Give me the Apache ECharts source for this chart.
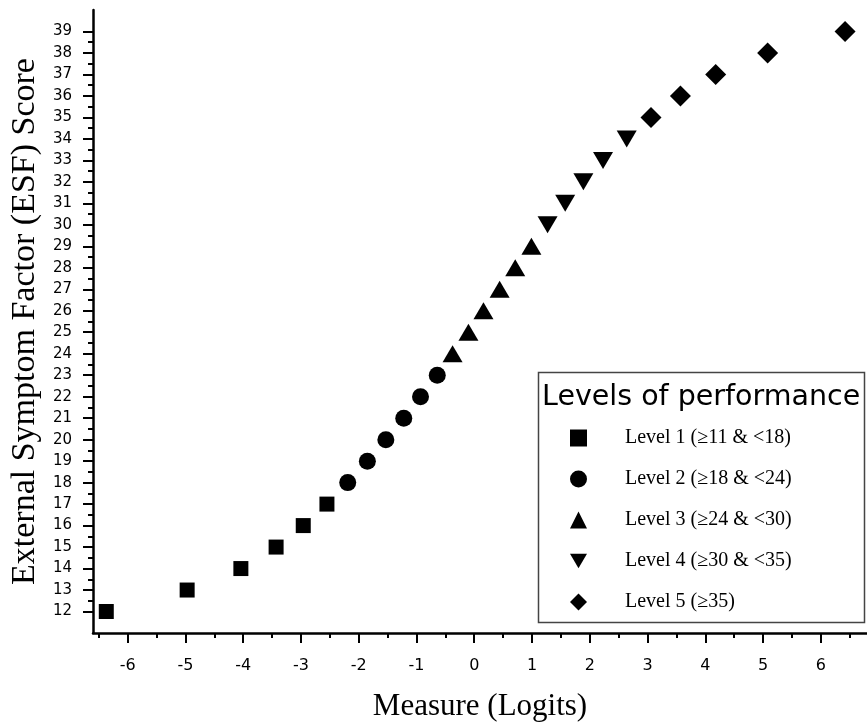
<!DOCTYPE html>
<html><head><meta charset="utf-8">
<script src="https://cdn.jsdelivr.net/npm/echarts@6/dist/echarts.min.js"></script>
<style>html,body{margin:0;padding:0;background:#fff}#c{width:867px;height:726px}</style>
</head><body><div id="c"></div>
<script>
const levelNames = ['Level 1 (≥11 & <18)', 'Level 2 (≥18 & <24)', 'Level 3 (≥24 & <30)', 'Level 4 (≥30 & <35)', 'Level 5 (≥35)'];
const level1Measure = [-6.37, -4.97, -4.04, -3.43, -2.96, -2.55];
const level1Score = [12, 13, 14, 15, 16, 17];
const level2Measure = [-2.19, -1.85, -1.53, -1.22, -0.93, -0.64];
const level2Score = [18, 19, 20, 21, 22, 23];
const level3Measure = [-0.375, -0.10, 0.16, 0.44, 0.71, 0.99];
const level3Score = [24, 25, 26, 27, 28, 29];
const level4Measure = [1.27, 1.575, 1.89, 2.23, 2.64];
const level4Score = [30, 31, 32, 33, 34];
const level5Measure = [3.06, 3.57, 4.18, 5.08, 6.42];
const level5Score = [35, 36, 37, 38, 39];
const xMajorTicks = [-6, -5, -4, -3, -2, -1, 0, 1, 2, 3, 4, 5, 6];
const xMinorTicks = [-6.5, -5.5, -4.5, -3.5, -2.5, -1.5, -0.5, 0.5, 1.5, 2.5, 3.5, 4.5, 5.5, 6.5];
const yMajorTicks = [12, 13, 14, 15, 16, 17, 18, 19, 20, 21, 22, 23, 24, 25, 26, 27, 28, 29, 30, 31, 32, 33, 34, 35, 36, 37, 38, 39];
const yMinorTicks = [12.5, 13.5, 14.5, 15.5, 16.5, 17.5, 18.5, 19.5, 20.5, 21.5, 22.5, 23.5, 24.5, 25.5, 26.5, 27.5, 28.5, 29.5, 30.5, 31.5, 32.5, 33.5, 34.5, 35.5, 36.5, 37.5, 38.5];
const xTitle = 'Measure (Logits)';
const yTitle = 'External Symptom Factor (ESF) Score';
const legendTitle = 'Levels of performance';

const pairs = (xs, ys) => xs.map((x, i) => [x, ys[i]]);
const serif = '"Liberation Serif", "Times New Roman", serif';
const sans = '"DejaVu Sans", sans-serif';

const chart = echarts.init(document.getElementById('c'), null, {renderer: 'canvas'});
const xBase = {type: 'value', min: -6.6, max: 6.8, position: 'bottom', splitLine: {show: false}, gridIndex: 0};
const yBase = {type: 'value', min: 11, max: 40, position: 'left', splitLine: {show: false}, gridIndex: 0};
chart.setOption({
  animation: false,
  backgroundColor: '#fff',
  grid: {left: 93, right: 0, top: 10, bottom: 93, containLabel: false, outerBoundsMode: 'none'},
  xAxis: [
    Object.assign({}, xBase, {
      name: xTitle, nameLocation: 'middle', nameGap: 58,
      nameTextStyle: {fontFamily: serif, fontSize: 31, color: '#000'},
      axisLine: {show: true, onZero: false, lineStyle: {color: '#000', width: 2.5}},
      axisTick: {show: true, inside: false, length: 10, customValues: xMajorTicks, lineStyle: {color: '#000', width: 2}},
      axisLabel: {show: true, customValues: xMajorTicks, margin: 25, fontFamily: sans, fontSize: 16, color: '#000'}
    }),
    Object.assign({}, xBase, {
      axisLine: {show: false, onZero: false},
      axisTick: {show: true, inside: false, length: 5, customValues: xMinorTicks, lineStyle: {color: '#000', width: 2}},
      axisLabel: {show: false}
    })
  ],
  yAxis: [
    Object.assign({}, yBase, {
      name: yTitle, nameLocation: 'middle', nameGap: 47,
      nameTextStyle: {fontFamily: serif, fontSize: 34, color: '#000'},
      axisLine: {show: true, onZero: false, lineStyle: {color: '#000', width: 2.5}},
      axisTick: {show: true, inside: false, length: 10, customValues: yMajorTicks, lineStyle: {color: '#000', width: 2}},
      axisLabel: {show: true, customValues: yMajorTicks, margin: 21, fontFamily: sans, fontSize: 15, color: '#000'}
    }),
    Object.assign({}, yBase, {
      axisLine: {show: false, onZero: false},
      axisTick: {show: true, inside: false, length: 5, customValues: yMinorTicks, lineStyle: {color: '#000', width: 2}},
      axisLabel: {show: false}
    })
  ],
  legend: {
    orient: 'vertical', left: 570, top: 428, padding: 0, itemGap: 21,
    itemWidth: 17, itemHeight: 17, selectedMode: false,
    data: levelNames,
    textStyle: {fontFamily: serif, fontSize: 20, lineHeight: 20, color: '#000', padding: [0, 0, 0, 33]}
  },
  graphic: [
    {type: 'rect', shape: {x: 538.5, y: 372.5, width: 326, height: 250}, style: {fill: 'none', stroke: '#444', lineWidth: 1.5}, z: 10},
    {type: 'text', x: 542, y: 398, style: {text: legendTitle, font: '28.5px "DejaVu Sans", sans-serif', fill: '#000', verticalAlign: 'middle', align: 'left'}, z: 10}
  ],
  series: [
    {name: levelNames[0], type: 'scatter', symbol: 'rect', symbolSize: 15, data: pairs(level1Measure, level1Score), itemStyle: {color: '#000', opacity: 1}},
    {name: levelNames[1], type: 'scatter', symbol: 'circle', symbolSize: 17, data: pairs(level2Measure, level2Score), itemStyle: {color: '#000', opacity: 1}},
    {name: levelNames[2], type: 'scatter', symbol: 'triangle', symbolSize: [20, 17], data: pairs(level3Measure, level3Score), itemStyle: {color: '#000', opacity: 1}},
    {name: levelNames[3], type: 'scatter', symbol: 'path://M0,0 L20,0 L10,17 Z', symbolSize: [20, 17], data: pairs(level4Measure, level4Score), itemStyle: {color: '#000', opacity: 1}},
    {name: levelNames[4], type: 'scatter', symbol: 'diamond', symbolSize: 21, data: pairs(level5Measure, level5Score), itemStyle: {color: '#000', opacity: 1}}
  ]
});
</script></body></html>
